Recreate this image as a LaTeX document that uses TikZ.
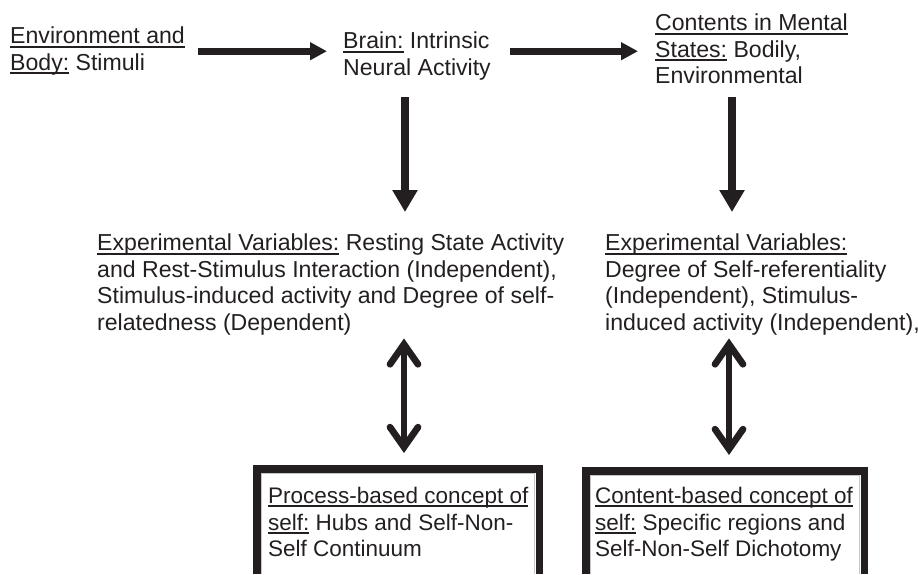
\documentclass[tikz,border=0pt]{standalone}
\usepackage{fontspec}
\setmainfont{Liberation Sans}
\usetikzlibrary{arrows.meta}
\definecolor{ink}{HTML}{231F20}
\newcommand{\ulin}[1]{\setbox0\hbox{#1}\rlap{\vrule width\wd0 height -1.6pt depth 3.6pt}\box0\relax}

\begin{document}
\begin{tikzpicture}[x=1pt,y=-1pt,
    txt/.style={anchor=north west,inner sep=0pt,align=left,text=ink,
      font=\fontsize{23.1}{26.5}\selectfont},
    boxtxt/.style={txt,font=\fontsize{22.5}{26.5}\selectfont},
    flow/.style={draw=ink,line width=6.7pt,-{Triangle[length=17pt,width=17pt]}},
    down/.style={draw=ink,line width=8.3pt,-{Triangle[length=22pt,width=24pt]}},
    both/.style={draw=ink,line width=6.7pt,
      {Straight Barb[length=20pt,width=28pt,line cap=round,line join=miter]}-{Straight Barb[length=20pt,width=28pt,line cap=round,line join=miter]}},
    frame/.style={draw=ink,line width=7.5pt,line join=miter},
    rim/.style={draw=gray!45,line width=0.8pt}]
  \useasboundingbox (0,0) rectangle (918,574);

  % top row
  \node[txt] (env) at (10,27) {\ulin{Environment and}\\\ulin{Body:} Stimuli};
  \node[txt] (brain) at (343,32) {\ulin{Brain:} Intrinsic\\Neural Activity};
  \node[txt] (contents) at (655,14) {\ulin{Contents in Mental}\\\ulin{States:} Bodily,\\Environmental};

  % middle row
  \node[txt] (expL) at (97,234) {\ulin{Experimental Variables:} Resting State Activity\\
    and Rest-Stimulus Interaction (Independent),\\
    Stimulus-induced activity and Degree of self-\\
    relatedness (Dependent)};
  \node[txt] (expR) at (605,234) {\ulin{Experimental Variables:}\\
    Degree of Self-referentiality\\
    (Independent), Stimulus-\\
    induced activity (Independent),};

  % bottom boxes, cut off at the lower edge
  \draw[frame] (256.75,574) -- (256.75,468.75) -- (539.25,468.75) -- (539.25,574);
  \draw[rim] (261.5,574) -- (261.5,473.5) -- (534.5,473.5) -- (534.5,574);
  \draw[frame] (585.75,574) -- (585.75,470.75) -- (864.25,470.75) -- (864.25,574);
  \draw[rim] (590.5,574) -- (590.5,475.5) -- (859.5,475.5) -- (859.5,574);
  \node[boxtxt] (procTxt) at (268,487) {\ulin{Process-based concept of}\\
    \ulin{self:} Hubs and Self-Non-\\Self Continuum};
  \node[boxtxt] (contTxt) at (595,487) {\ulin{Content-based concept of}\\
    \ulin{self:} Specific regions and\\Self-Non-Self Dichotomy};

  \coordinate (colL) at (405,0);
  \coordinate (colR) at (732,0);
  \coordinate (procTop) at (404,465);
  \coordinate (contTop) at (729,467);

  % arrows
  \draw[flow,shorten <=13pt,shorten >=16pt] (env.east) -- (env.east -| brain.west);
  \draw[flow,shorten <=19pt,shorten >=17pt] (brain.east |- env.east) -- (env.east -| contents.west);
  \draw[down,shorten <=17pt,shorten >=22pt] (colL |- brain.south) -- (colL |- expL.north);
  \draw[down,shorten <=13pt,shorten >=22pt] (colR |- contents.south) -- (colR |- expR.north);
  \draw[both,shorten <=3pt,shorten >=12pt] (procTop |- expL.south) -- (procTop);
  \draw[both,shorten <=3pt,shorten >=12pt] (contTop |- expR.south) -- (contTop);
\end{tikzpicture}
\end{document}
